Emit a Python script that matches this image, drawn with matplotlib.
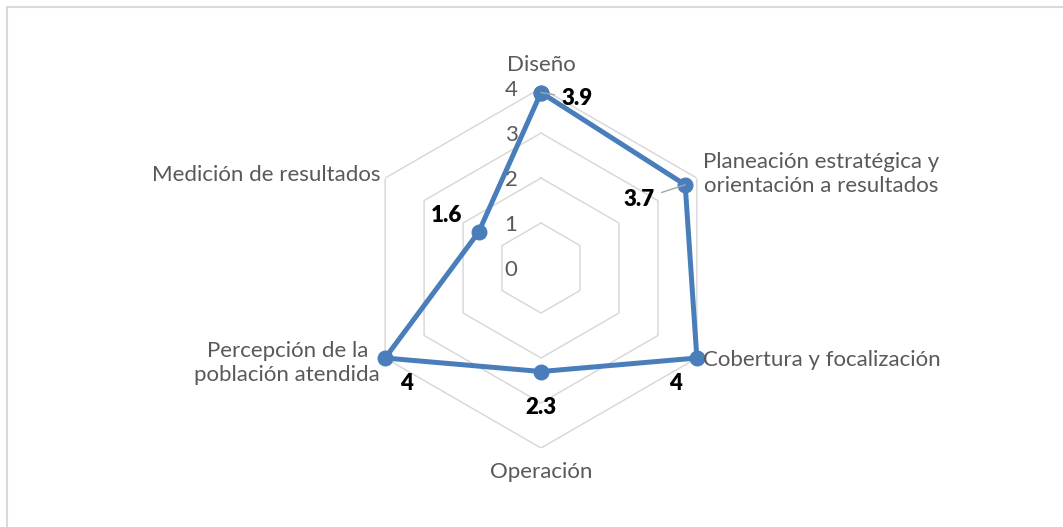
#-*- coding: utf-8 -*-
import numpy as np
from matplotlib import pyplot as plt
from matplotlib.patches import Rectangle

categorias = ['Diseño',
              'Planeación estratégica y\norientación a resultados',
              'Cobertura y focalización',
              'Operación',
              'Percepción de la\npoblación atendida',
              'Medición de resultados']
valores = [3.9, 3.7, 4, 2.3, 4, 1.6]
etiquetas_valor = ['3.9', '3.7', '4', '2.3', '4', '1.6']
niveles = [0, 1, 2, 3, 4]

plt.rcParams['font.family'] = ['Lato', 'DejaVu Sans']

fig = plt.figure(figsize=(10.63, 5.27), dpi=100)
# borde del area del grafico (solo se ven arriba e izquierda)
fig.patches.append(Rectangle((7 / 1063, -0.5), 2, 1 - 7 / 527 + 0.5,
                             transform=fig.transFigure, fill=False,
                             edgecolor='#d9d9d9', lw=1.5, clip_on=False))

ax = fig.add_axes([0.3396, 0.1499, 0.3387, 0.683], projection='polar')
ax.set_theta_offset(np.pi / 2)
ax.set_theta_direction(-1)
ax.set_ylim(0, 4)
ax.set_axis_off()

n = len(categorias)
angulos = np.linspace(0, 2 * np.pi, n, endpoint=False)
cerrado = np.append(angulos, angulos[0])

# hexagonos de la reticula
for nv in niveles[1:]:
    ax.plot(cerrado, [nv] * (n + 1), color='#d9d9d9', lw=1.1, zorder=1)

# etiquetas del eje radial
for nv in niveles:
    ax.annotate(str(nv), xy=(0, nv), xytext=(-30, -2), textcoords='offset pixels',
                ha='center', va='center', fontsize=16, color='#595959')

# serie
vals = valores + valores[:1]
ax.plot(cerrado, vals, color='#4a7ebb', lw=3.6, marker='o', markersize=10.5,
        zorder=3, clip_on=False)

# etiquetas de categorias
offs_cat = [(0, 23, 'center'), (6, 4, 'left'), (6, -2, 'left'),
            (0, -24, 'center'), (-5, -5, 'right'), (-5, 3, 'right')]
for a, c, (dx, dy, ha) in zip(angulos, categorias, offs_cat):
    ax.annotate(c, xy=(a, 4), xytext=(dx, dy), textcoords='offset pixels',
                ha=ha, va='center', multialignment='center',
                fontsize=16, color='#595959', linespacing=1.3)

# etiquetas de valores
offs_val = [(36, -6), (-46, -15), (-21, -25), (0, -36), (21, -25), (-32, 17)]
for i, (a, v, t) in enumerate(zip(angulos, valores, etiquetas_valor)):
    props = None
    if i in (0, 1):
        props = dict(arrowstyle='-', color='#a6a6a6', lw=1, shrinkA=3, shrinkB=0)
    ax.annotate(t, xy=(a, v), xytext=offs_val[i], textcoords='offset pixels',
                ha='center', va='center', fontsize=16, fontweight='heavy',
                color='black', arrowprops=props)

plt.savefig('out.png', dpi=100, facecolor='white')
